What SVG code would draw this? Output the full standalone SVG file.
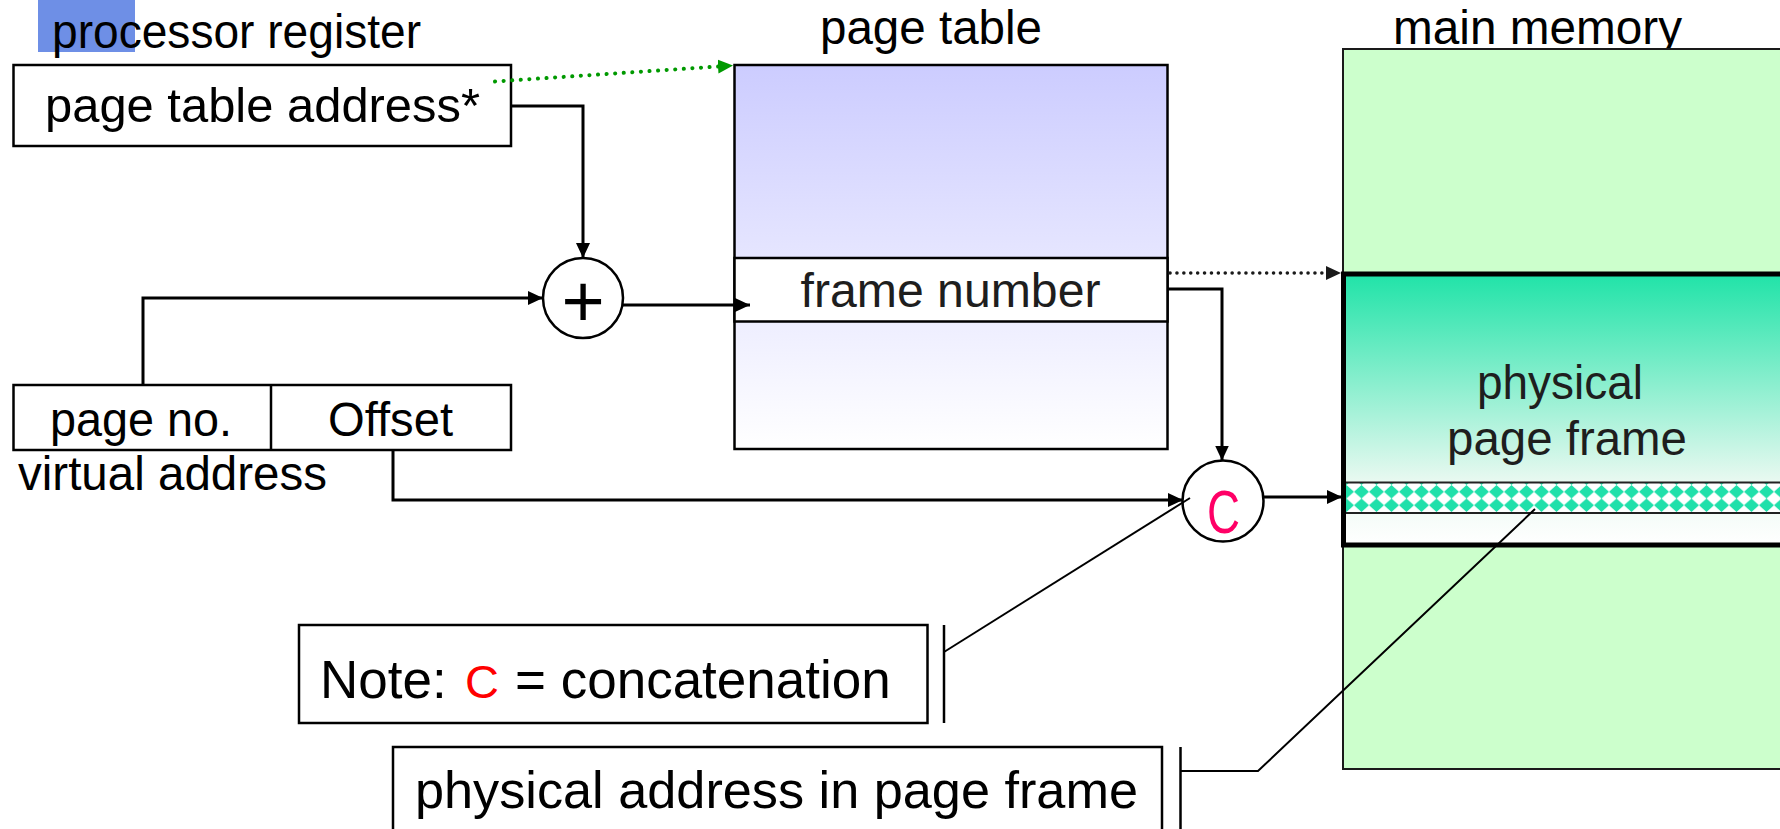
<svg xmlns="http://www.w3.org/2000/svg" width="1780" height="829" viewBox="0 0 1780 829">
  <style>
    .lbl { font-family: "Liberation Sans", Arial, sans-serif; font-size: 47.5px; fill: #000; }
    .dark { fill: #1e1e1e; }
    .big { font-size: 52px; }
    .box { fill: #fff; stroke: #000; stroke-width: 2.5; }
    .wire { fill: none; stroke: #000; stroke-width: 3; }
    .thin { fill: none; stroke: #000; stroke-width: 2; }
    .op { fill: #fff; stroke: #000; stroke-width: 2.5; }
  </style>
  <defs>
    <marker id="arrow" markerUnits="userSpaceOnUse" markerWidth="16" markerHeight="16" refX="15" refY="7" orient="auto">
      <path d="M0,0 L15,7 L0,14 z" fill="#000"/>
    </marker>
    <marker id="arrowGreen" markerUnits="userSpaceOnUse" markerWidth="16" markerHeight="16" refX="15" refY="7" orient="auto">
      <path d="M0,0 L15,7 L0,14 z" fill="#009900"/>
    </marker>
    <marker id="arrowDot" markerUnits="userSpaceOnUse" markerWidth="16" markerHeight="16" refX="15" refY="7" orient="auto">
      <path d="M0,0 L15,7 L0,14 z" fill="#1a1a1a"/>
    </marker>
    <linearGradient id="tableGrad" gradientUnits="userSpaceOnUse" x1="0" y1="65" x2="0" y2="449">
      <stop offset="0" stop-color="#CCCCFF"/>
      <stop offset="1" stop-color="#FFFFFF"/>
    </linearGradient>
    <linearGradient id="frameGrad" gradientUnits="userSpaceOnUse" x1="0" y1="274" x2="0" y2="545">
      <stop offset="0" stop-color="#20E3A8"/>
      <stop offset="0.77" stop-color="#EAF9F1"/>
      <stop offset="1" stop-color="#FFFFFF"/>
    </linearGradient>
    <pattern id="diamonds" patternUnits="userSpaceOnUse" x="1339" y="485" width="15" height="13.5">
      <rect width="15" height="13.5" fill="#fff"/>
      <path d="M7.5,0 L15,6.75 L7.5,13.5 L0,6.75 z" fill="#20E0AA"/>
    </pattern>
  </defs>

  <rect width="1780" height="829" fill="#fff"/>

  <!-- processor register -->
  <g id="register">
    <rect x="38" y="0" width="97" height="52" fill="#6E8FE6"/>
    <text class="lbl" x="52" y="48" textLength="369" lengthAdjust="spacingAndGlyphs">processor register</text>
    <rect class="box" x="13.5" y="65" width="497.5" height="81"/>
    <text class="lbl" x="45" y="122" textLength="435" lengthAdjust="spacingAndGlyphs">page table address*</text>
  </g>

  <!-- page table -->
  <g id="pageTable">
    <text class="lbl" x="820" y="44" textLength="222" lengthAdjust="spacingAndGlyphs">page table</text>
    <rect x="734.5" y="65" width="433" height="384" fill="url(#tableGrad)" stroke="#000" stroke-width="2.5"/>
    <rect class="box" x="734.5" y="258" width="433" height="63.5"/>
    <text class="lbl dark" x="800.5" y="307" textLength="300" lengthAdjust="spacingAndGlyphs">frame number</text>
  </g>

  <!-- adder -->
  <g id="adder">
    <circle class="op" cx="583" cy="298" r="40"/>
    <text class="lbl" x="583" y="327" text-anchor="middle" style="font-size:74px">+</text>
  </g>

  <!-- virtual address -->
  <g id="virtualAddress">
    <rect class="box" x="13.5" y="385" width="497.5" height="65"/>
    <line x1="271" y1="385" x2="271" y2="450" stroke="#000" stroke-width="2.5"/>
    <text class="lbl" x="50" y="436" textLength="182" lengthAdjust="spacingAndGlyphs">page no.</text>
    <text class="lbl" x="328" y="436" textLength="125" lengthAdjust="spacingAndGlyphs">Offset</text>
    <text class="lbl" x="18" y="490" textLength="309" lengthAdjust="spacingAndGlyphs">virtual address</text>
  </g>

  <!-- concatenation -->
  <g id="concat">
    <circle class="op" cx="1223" cy="501" r="40.5"/>
    <text class="lbl" x="1207" y="533" style="font-size:61px;fill:#FF0066" textLength="33" lengthAdjust="spacingAndGlyphs">C</text>
  </g>

  <!-- main memory -->
  <g id="mainMemory">
    <text class="lbl" x="1393" y="44" textLength="289" lengthAdjust="spacingAndGlyphs">main memory</text>
    <rect x="1343" y="49" width="460" height="720" fill="#CCFFCC" stroke="#1a1a1a" stroke-width="2"/>
    <rect x="1343.5" y="274" width="460" height="271" fill="url(#frameGrad)"/>
    <rect x="1346" y="482.5" width="460" height="30.5" fill="url(#diamonds)"/>
    <line x1="1346" y1="482.5" x2="1800" y2="482.5" stroke="#222" stroke-width="2"/>
    <line x1="1346" y1="513" x2="1800" y2="513" stroke="#222" stroke-width="2"/>
    <rect x="1343.5" y="274" width="460" height="271" fill="none" stroke="#000" stroke-width="5"/>
    <text class="lbl dark" x="1477" y="399" textLength="166" lengthAdjust="spacingAndGlyphs">physical</text>
    <text class="lbl dark" x="1447" y="455" textLength="240" lengthAdjust="spacingAndGlyphs">page frame</text>
  </g>

  <!-- callout: concatenation note -->
  <g id="noteBox">
    <rect class="box" x="299" y="625" width="628.5" height="98"/>
    <line x1="944" y1="625" x2="944" y2="723" stroke="#000" stroke-width="2.5"/>
    <text class="lbl" y="698" style="font-size:53px"><tspan x="320">Note:</tspan><tspan x="465" style="font-size:47px;fill:#FF0000">C</tspan><tspan x="515">= concatenation</tspan></text>
  </g>

  <!-- callout: physical address -->
  <g id="physAddrBox">
    <rect class="box" x="393" y="747" width="769" height="100"/>
    <line x1="1180.5" y1="747" x2="1180.5" y2="829" stroke="#000" stroke-width="2.5"/>
    <text class="lbl big" x="415" y="808" textLength="723" lengthAdjust="spacingAndGlyphs">physical address in page frame</text>
  </g>

  <!-- connectors -->
  <g id="connectors">
    <path class="wire" d="M511,106 H583 V258" marker-end="url(#arrow)"/>
    <path class="wire" d="M143,385 V298 H543" marker-end="url(#arrow)"/>
    <path class="wire" d="M623,305 H750" marker-end="url(#arrow)"/>
    <path class="wire" d="M1167.5,289 H1222 V460.5" marker-end="url(#arrow)"/>
    <path class="wire" d="M393,450 V500 H1183" marker-end="url(#arrow)"/>
    <path class="wire" d="M1263.5,497 H1342" marker-end="url(#arrow)"/>
    <path d="M495,81.5 L733,65.5" fill="none" stroke="#009900" stroke-width="4" stroke-linecap="round" stroke-dasharray="0.1 8.5" marker-end="url(#arrowGreen)"/>
    <path d="M1170,273 H1341" fill="none" stroke="#1a1a1a" stroke-width="3.5" stroke-linecap="round" stroke-dasharray="0.1 6.8" marker-end="url(#arrowDot)"/>
    <path class="thin" d="M944,652 L1190,498"/>
    <path class="thin" d="M1180.5,771 H1258 L1535,509"/>
  </g>
</svg>
